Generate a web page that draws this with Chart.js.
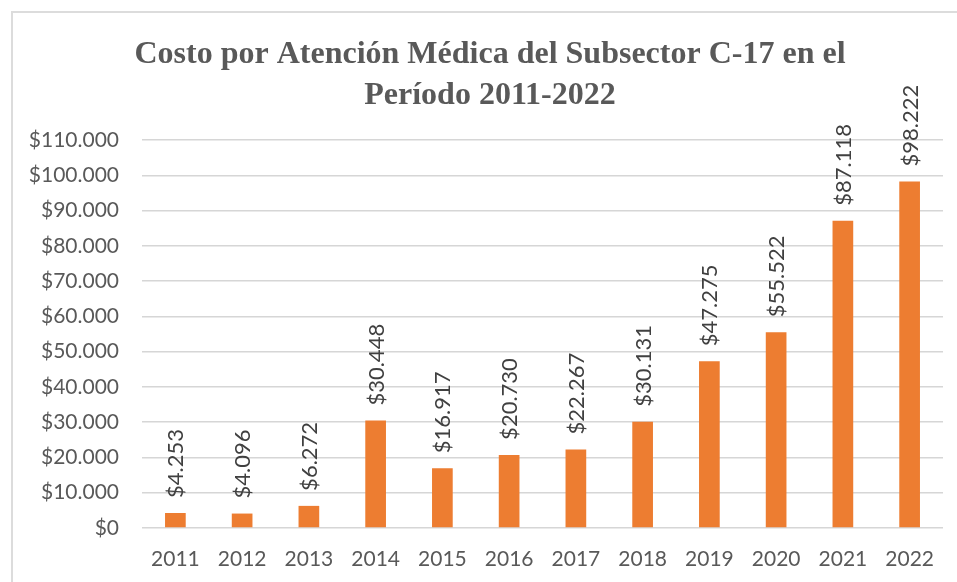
<!DOCTYPE html>
<html>
<head>
<meta charset="utf-8">
<script src="https://cdn.jsdelivr.net/npm/chart.js@4/dist/chart.umd.min.js"></script>
<style>
  html, body { margin: 0; padding: 0; background: #ffffff; overflow: hidden; }
  #frame { position: absolute; left: 11px; top: 11px; width: 1000px; height: 1000px;
           border-left: 2px solid #dcdcdc; border-top: 2px solid #dcdcdc; }
  #c { position: absolute; left: 0; top: 0; }
</style>
</head>
<body>
<div id="frame"></div>
<canvas id="c" width="957" height="582"></canvas>
<script>
const titleLines = ['Costo por Atención Médica del Subsector C-17 en el', 'Período 2011-2022'];
const years = ['2011','2012','2013','2014','2015','2016','2017','2018','2019','2020','2021','2022'];
const costs = [4253, 4096, 6272, 30448, 16917, 20730, 22267, 30131, 47275, 55522, 87118, 98222];
const yMin = 0;
const yMax = 110000;
const yStep = 10000;

function fmt(v) {
  return '$' + String(Math.round(v)).replace(/\B(?=(\d{3})+(?!\d))/g, '.');
}

const chartTitle = {
  id: 'chartTitle',
  afterDraw(chart) {
    const ctx = chart.ctx;
    ctx.save();
    ctx.font = 'bold 32px "Liberation Serif"';
    ctx.fillStyle = '#595959';
    ctx.textAlign = 'center';
    ctx.textBaseline = 'alphabetic';
    ctx.fillText(titleLines[0], 490, 63);
    ctx.fillText(titleLines[1], 490, 104);
    ctx.restore();
  }
};

const barLabels = {
  id: 'barLabels',
  afterDatasetsDraw(chart) {
    const ctx = chart.ctx;
    const meta = chart.getDatasetMeta(0);
    ctx.save();
    ctx.font = '22px Lato';
    ctx.fillStyle = '#404040';
    ctx.textAlign = 'left';
    ctx.textBaseline = 'middle';
    meta.data.forEach((bar, i) => {
      ctx.save();
      ctx.translate(bar.x + 1, bar.y - 15);
      ctx.rotate(-Math.PI / 2);
      ctx.fillText(fmt(costs[i]), 0, 0);
      ctx.restore();
    });
    ctx.restore();
  }
};

new Chart(document.getElementById('c'), {
  type: 'bar',
  data: {
    labels: years,
    datasets: [{
      data: costs,
      backgroundColor: '#ED7D31',
      borderWidth: 0,
      categoryPercentage: 1,
      barPercentage: 0.31
    }]
  },
  options: {
    responsive: false,
    animation: false,
    layout: { padding: { left: 0, right: 14, top: 140, bottom: 0 } },
    plugins: {
      legend: { display: false },
      tooltip: { enabled: false },
      title: { display: false }
    },
    scales: {
      x: {
        grid: { display: false },
        border: { display: false },
        ticks: { color: '#595959', font: { family: 'Lato', size: 21 }, padding: 11, maxRotation: 0 },
        afterFit(s) { s.height = 54; }
      },
      y: {
        min: yMin,
        max: yMax,
        grid: { color: '#d6d6d6', lineWidth: 1.5, drawTicks: false },
        border: { display: false },
        ticks: { stepSize: yStep, color: '#595959', font: { family: 'Lato', size: 21 }, padding: 23,
                 callback: (v) => fmt(v) },
        afterFit(s) { s.width = 142; }
      }
    }
  },
  plugins: [barLabels, chartTitle]
});
</script>
</body>
</html>
